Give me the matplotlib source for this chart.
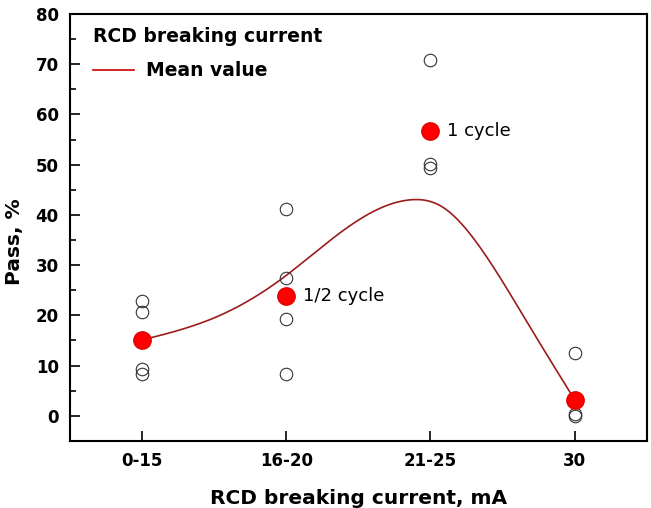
import numpy as np
import matplotlib
matplotlib.use("Agg")
import matplotlib.pyplot as plt
from matplotlib.ticker import MultipleLocator

# categories on the x axis
categories = ["0-15", "16-20", "21-25", "30"]

# individual measurements (open circles), per category
points_0_15 = [22.8, 20.6, 9.3, 8.4]
points_16_20 = [41.2, 27.4, 19.3, 8.4]
points_21_25 = [70.8, 50.2, 49.4]
points_30 = [12.5, 0.4, 0.0]

# highlighted values (red dots)
red_values = [15.1, 23.9, 56.8, 3.2]

# points
curve_x = [1.0, 1.5, 1.96, 2.33, 2.56, 2.86, 3.07, 3.34, 3.69, 4.0]
curve_y = [15.1, 19.5, 27.1, 35.5, 40.0, 43.0, 41.8, 33.7, 17.7, 3.2]


def natural_spline(xk, yk, xs):
    xk = np.asarray(xk, float)
    yk = np.asarray(yk, float)
    n = len(xk)
    h = np.diff(xk)
    A = np.zeros((n, n))
    d = np.zeros(n)
    A[0, 0] = A[-1, -1] = 1.0
    for i in range(1, n - 1):
        A[i, i - 1] = h[i - 1]
        A[i, i] = 2 * (h[i - 1] + h[i])
        A[i, i + 1] = h[i]
        d[i] = 6 * ((yk[i + 1] - yk[i]) / h[i] - (yk[i] - yk[i - 1]) / h[i - 1])
    M = np.linalg.solve(A, d)
    idx = np.clip(np.searchsorted(xk, xs) - 1, 0, n - 2)
    x0, x1 = xk[idx], xk[idx + 1]
    hh = x1 - x0
    return (M[idx] * (x1 - xs) ** 3 / (6 * hh) + M[idx + 1] * (xs - x0) ** 3 / (6 * hh)
            + (yk[idx] / hh - M[idx] * hh / 6) * (x1 - xs)
            + (yk[idx + 1] / hh - M[idx + 1] * hh / 6) * (xs - x0))


fig = plt.figure(figsize=(6.51, 5.08), dpi=100)
ax = fig.add_axes([0.1075, 0.132, 0.886, 0.8405])

xpos = np.arange(1, len(categories) + 1)
groups = [points_0_15, points_16_20, points_21_25, points_30]
for x, vals in zip(xpos, groups):
    ax.plot([x] * len(vals), vals, linestyle="none", marker="o", markersize=9,
            markerfacecolor="none", markeredgecolor="#333333", markeredgewidth=0.8, zorder=3)

xs = np.linspace(curve_x[0], curve_x[-1], 300)
ax.plot(xs, natural_spline(curve_x, curve_y, xs), color="#9b1c1c", lw=1.2,
        zorder=2, label="Mean value")

ax.plot(xpos, red_values, linestyle="none", marker="o", markersize=12.5,
        markerfacecolor="#ff0000", markeredgecolor="#e00000", zorder=4)

ax.annotate("1/2 cycle", (xpos[1], red_values[1]), xytext=(12, 0), textcoords="offset points",
            va="center", ha="left", fontsize=13, family="DejaVu Sans")
ax.annotate("1 cycle", (xpos[2], red_values[2]), xytext=(12, 0), textcoords="offset points",
            va="center", ha="left", fontsize=13, family="DejaVu Sans")

ax.set_xlim(0.5, 4.5)
ax.set_ylim(-5, 80)
ax.set_xticks(xpos)
ax.set_xticklabels(categories)
ax.yaxis.set_major_locator(MultipleLocator(10))
ax.yaxis.set_minor_locator(MultipleLocator(5))

for s in ax.spines.values():
    s.set_linewidth(1.5)
ax.tick_params(axis="both", which="major", direction="in", length=7, width=1.2,
               labelsize=12, pad=8)
ax.tick_params(axis="y", which="minor", direction="in", length=4, width=1.2)
for lab in ax.get_xticklabels() + ax.get_yticklabels():
    lab.set_fontweight("bold")

ax.set_xlabel("RCD breaking current, mA", fontsize=14.5, fontweight="bold", labelpad=14)
ax.set_ylabel("Pass, %", fontsize=14.5, fontweight="bold")
ax.yaxis.set_label_coords(-0.08, 0.466)

# legend: bold heading above the line entry
ax.text(0.04, 0.948, "RCD breaking current", transform=ax.transAxes,
        fontsize=13.5, fontweight="bold", va="center", ha="left")
leg = ax.legend(loc="center left", bbox_to_anchor=(0.04, 0.8665), frameon=False,
                prop={"size": 13.5, "weight": "bold"}, borderpad=0, borderaxespad=0,
                handlelength=2.2, handletextpad=0.6)
leg.get_lines()[0].set_color("#cc0000")

fig.savefig("out.png", dpi=100)
